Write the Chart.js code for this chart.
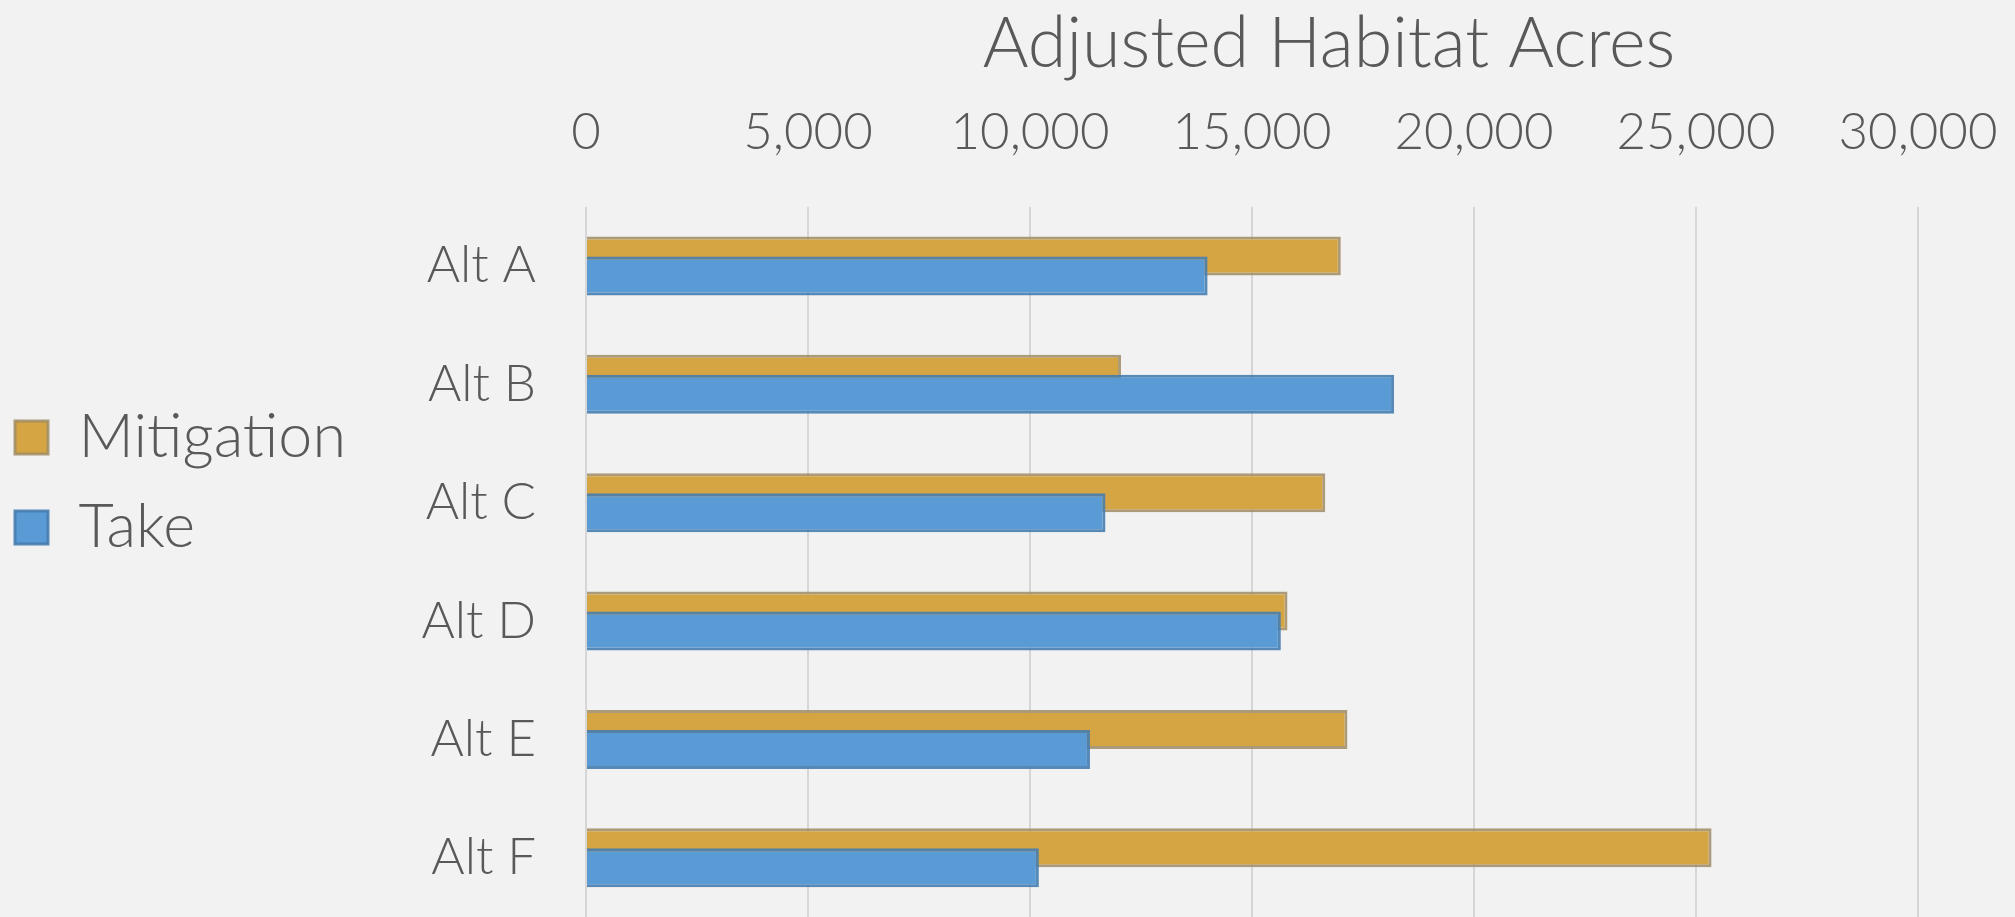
<!DOCTYPE html>
<html>
<head>
<meta charset="utf-8">
<script src="https://cdn.jsdelivr.net/npm/chart.js@4.4.1/dist/chart.umd.min.js"></script>
<style>
  html, body { margin: 0; padding: 0; background: #f2f2f2; }
  canvas { display: block; }
</style>
</head>
<body>
<canvas id="grafico" width="2015" height="917"></canvas>
<script>
// Datos
const categorias = ['Alt A', 'Alt B', 'Alt C', 'Alt D', 'Alt E', 'Alt F'];
const mitigacion = [17000, 12050, 16650, 15800, 17150, 25350];
const take = [14000, 18200, 11700, 15650, 11350, 10200];
const etiquetasX = ['0', '5,000', '10,000', '15,000', '20,000', '25,000', '30,000'];

const fuente = 'Lato, "Open Sans", sans-serif';
const gris = '#595959';
const bordeIzq = 586; // borde izquierdo del area de grafico

// mueve el titulo hacia la derecha como en el original
const moverTitulo = {
    id: 'moverTitulo',
    afterLayout(chart) {
        const t = chart.titleBlock;
        t.left = 643;
        t.right = chart.width;
    }
};

// las barras "Take" se dibujan encima de "Mitigation" (se solapan)
const ordenDibujo = {
    id: 'ordenDibujo',
    beforeDatasetDraw(chart, args) {
        if (args.index === 1) return false;
    },
    afterDatasetsDraw(chart) {
        chart.getDatasetMeta(1).controller.draw();
    }
};

const ctx = document.getElementById('grafico').getContext('2d');
new Chart(ctx, {
    type: 'bar',
    data: {
        labels: categorias,
        datasets: [{
            label: 'Mitigation',
            data: mitigacion,
            backgroundColor: '#d6a543',
            borderColor: 'rgba(160,140,100,0.85)',
            borderWidth: 3
        }, {
            label: 'Take',
            data: take,
            backgroundColor: '#5b9bd5',
            borderColor: 'rgba(70,125,175,0.9)',
            borderWidth: 3
        }]
    },
    options: {
        indexAxis: 'y',
        responsive: false,
        animation: false,
        categoryPercentage: 0.338,
        barPercentage: 1.95,
        layout: {
            padding: { left: -14, right: 97, top: 0, bottom: 0 }
        },
        plugins: {
            title: {
                display: true,
                text: 'Adjusted Habitat Acres',
                color: gris,
                font: { family: fuente, size: 70, weight: '300' },
                padding: { top: 2, bottom: 15.6 }
            },
            legend: {
                position: 'left',
                title: {
                    display: true,
                    text: '',
                    padding: 0,
                    font: { size: 40 }
                },
                labels: {
                    color: gris,
                    font: { family: fuente, size: 61, weight: '300' },
                    boxWidth: 33,
                    boxHeight: 33,
                    padding: 29
                }
            },
            tooltip: { enabled: false }
        },
        scales: {
            x: {
                position: 'top',
                min: 0,
                max: 30000,
                ticks: {
                    stepSize: 5000,
                    padding: 0,
                    color: gris,
                    font: { family: fuente, size: 51, weight: '300' },
                    callback: function(valor, i) {
                        return etiquetasX[i];
                    }
                },
                grid: {
                    color: '#d6d6d6',
                    lineWidth: 2,
                    drawTicks: true,
                    tickLength: 44,
                    tickColor: 'rgba(0,0,0,0)'
                },
                border: { display: false },
                afterFit: function(escala) {
                    escala.paddingLeft = 0;
                    escala.paddingRight = 0;
                }
            },
            y: {
                ticks: {
                    padding: 50,
                    color: gris,
                    font: { family: fuente, size: 51, weight: '300' }
                },
                grid: { display: false, drawTicks: false },
                border: { display: false },
                afterFit: function(escala) {
                    const leyenda = escala.chart.legend;
                    escala.width = bordeIzq + 14 - (leyenda ? leyenda.width : 0);
                    escala.paddingTop = 0;
                    escala.paddingBottom = 0;
                }
            }
        }
    },
    plugins: [moverTitulo, ordenDibujo]
});
</script>
</body>
</html>
